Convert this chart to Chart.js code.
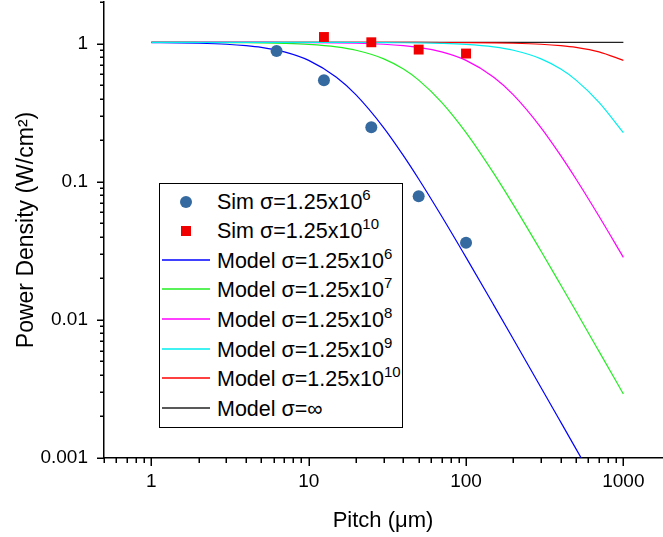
<!DOCTYPE html>
<html><head><meta charset="utf-8">
<script src="https://cdn.jsdelivr.net/npm/chart.js@4.4.1/dist/chart.umd.min.js"></script>
<style>
body{margin:0;background:#fff;}
#wrap{position:relative;width:663px;height:537px;}
#legend{position:absolute;left:159px;top:183px;width:244px;height:245px;border:1.5px solid #000;box-sizing:border-box;background:#fff;font-family:"Liberation Sans",Arial,sans-serif;font-size:21.5px;color:#000;}
.row{position:absolute;left:0;display:flex;align-items:center;height:30px;white-space:nowrap;}
.sym{width:57px;height:30px;position:relative;flex:none;}
.sym svg{position:absolute;left:2px;top:12px;}
.sym .dot{position:absolute;left:20px;top:9px;width:12px;height:12px;border-radius:50%;}
.sym .sq{position:absolute;left:21px;top:10px;width:10px;height:10px;}
sup{font-size:15px;line-height:0;vertical-align:baseline;position:relative;top:-0.6em;}
</style></head>
<body>
<div id="wrap">
<canvas id="c" width="663" height="537"></canvas>
<div id="legend"></div>
</div>
<script>
// ---- data ----
const simPitchLow = [6.25, 12.5, 25, 50, 100];
const simValuesLow = [0.884, 0.542, 0.248, 0.0786, 0.0361];
const simPitchHigh = [12.5, 25, 50, 100];
const simValuesHigh = [1.116, 1.022, 0.905, 0.847];

const modelPitch = [1, 1.5, 2, 3, 4, 5, 7, 10, 15, 20, 30, 40, 50, 70, 100, 150, 200, 300, 400, 500, 700, 1000];
const model6  = [1.0164, 1.0120, 1.0059, 0.9889, 0.9659, 0.9379, 0.8707, 0.7556, 0.5706, 0.425, 0.2458, 0.1545, 0.1046, 0.0562, 0.02833, 0.01279, 0.007234, 0.003228, 0.001818, 0.001164, 0.000594, 0.000291];
const model7  = [1.0196, 1.0192, 1.0186, 1.0168, 1.0143, 1.0112, 1.0028, 0.9855, 0.9455, 0.8947, 0.7757, 0.6538, 0.544, 0.3757, 0.2267, 0.1149, 0.068, 0.03138, 0.01789, 0.01153, 0.005913, 0.002906];
const model8  = [1.02, 1.0199, 1.0199, 1.0197, 1.0194, 1.0191, 1.0183, 1.0164, 1.0120, 1.0059, 0.9889, 0.9659, 0.9379, 0.8707, 0.7556, 0.5706, 0.425, 0.2458, 0.1545, 0.1046, 0.0562, 0.02833];
const model9  = [1.02, 1.02, 1.02, 1.02, 1.0199, 1.0199, 1.0198, 1.0196, 1.0192, 1.0186, 1.0168, 1.0143, 1.0112, 1.0028, 0.9855, 0.9455, 0.8947, 0.7757, 0.6538, 0.544, 0.3757, 0.2267];
const model10 = [1.02, 1.02, 1.02, 1.02, 1.02, 1.02, 1.02, 1.02, 1.0199, 1.0199, 1.0197, 1.0194, 1.0191, 1.0183, 1.0164, 1.012, 1.0059, 0.9889, 0.9659, 0.9379, 0.8707, 0.7556];
const modelInf = [1.02, 1.02, 1.02, 1.02, 1.02, 1.02, 1.02, 1.02, 1.02, 1.02, 1.02, 1.02, 1.02, 1.02, 1.02, 1.02, 1.02, 1.02, 1.02, 1.02, 1.02, 1.02];

const xTickValues = [0.5,0.6,0.7,0.8,0.9,1,2,3,4,5,6,7,8,9,10,20,30,40,50,60,70,80,90,100,200,300,400,500,600,700,800,900,1000];
const yTickValues = [0.001,0.002,0.003,0.004,0.005,0.006,0.007,0.008,0.009,0.01,0.02,0.03,0.04,0.05,0.06,0.07,0.08,0.09,0.1,0.2,0.3,0.4,0.5,0.6,0.7,0.8,0.9,1,2];
const xMajorLabels = ['1','10','100','1000'];
const yMajorLabels = ['0.001','0.01','0.1','1'];

const simLegend = [['Sim σ=1.25x10','6'], ['Sim σ=1.25x10','10']];
const modelLegend = [['Model σ=1.25x10','6'], ['Model σ=1.25x10','7'], ['Model σ=1.25x10','8'], ['Model σ=1.25x10','9'], ['Model σ=1.25x10','10'], ['Model σ=∞','']];

const simColors = ['#356aa0', '#f00000'];
const modelColors = ['#0000ff', '#22ee22', '#ff00ff', '#00eeee', '#ff0000', '#222222'];
// --------------------------------------

const FONT = '"Liberation Sans", Arial, sans-serif';
Chart.defaults.font.family = FONT;
Chart.defaults.color = '#000';

const toXY = (xs, ys) => xs.map((x, i) => ({x: x, y: ys[i]}));
const modelSeries = [model6, model7, model8, model9, model10, modelInf];
const modelOrder = [3, 5, 4, 2, 6, 7];

const datasets = [
  {label: simLegend[0].join(''), data: toXY(simPitchLow, simValuesLow), backgroundColor: simColors[0], borderColor: simColors[0], pointStyle: 'circle', pointRadius: 6, borderWidth: 0, order: 0},
  {label: simLegend[1].join(''), data: toXY(simPitchHigh, simValuesHigh), backgroundColor: simColors[1], borderColor: simColors[1], pointStyle: 'rect', pointRadius: 7, borderWidth: 0, order: 0}
];
modelSeries.forEach((s, i) => {
  datasets.push({label: modelLegend[i].join(''), data: toXY(modelPitch, s), showLine: true, borderColor: modelColors[i], backgroundColor: modelColors[i], borderWidth: 1.2, pointRadius: 0, cubicInterpolationMode: 'monotone', order: modelOrder[i]});
});

const isDecade = v => Math.abs(Math.log10(v) - Math.round(Math.log10(v))) < 1e-6;
const zeroPad = s => { s.paddingTop = 0; s.paddingBottom = 0; s.paddingLeft = 0; s.paddingRight = 0; };

const tickMarks = {
  id: 'tickMarks',
  afterDraw(chart) {
    const ctx = chart.ctx, xs = chart.scales.x, ys = chart.scales.y, ca = chart.chartArea;
    ctx.save();
    ctx.strokeStyle = '#000';
    ctx.lineWidth = 1.5;
    xs.ticks.forEach(t => {
      const px = Math.round(xs.getPixelForValue(t.value)) + 0.25;
      const len = isDecade(t.value) ? 8 : 5;
      ctx.beginPath(); ctx.moveTo(px, ca.bottom); ctx.lineTo(px, ca.bottom + len); ctx.stroke();
    });
    ys.ticks.forEach(t => {
      const py = Math.round(ys.getPixelForValue(t.value)) + 0.25;
      const len = isDecade(t.value) ? 7 : 4;
      ctx.beginPath(); ctx.moveTo(ca.left, py); ctx.lineTo(ca.left - len, py); ctx.stroke();
    });
    ctx.restore();
  }
};

new Chart(document.getElementById('c'), {
  type: 'scatter',
  data: {datasets},
  plugins: [tickMarks],
  options: {
    responsive: false,
    animation: false,
    events: [],
    layout: {autoPadding: false, padding: {top: 2, right: 1, left: 0, bottom: 0}},
    plugins: {legend: {display: false}, tooltip: {enabled: false}},
    scales: {
      x: {
        type: 'logarithmic', min: 0.5, max: 1760,
        afterBuildTicks: s => { s.ticks = xTickValues.map(v => ({value: v})); },
        afterFit: s => { s.height = 79; zeroPad(s); },
        grid: {display: false, drawTicks: false},
        border: {display: true, color: '#000', width: 1.5},
        ticks: {autoSkip: false, maxRotation: 0, minRotation: 0, padding: 12, color: '#000', font: {size: 19},
          callback: (v) => { if (!isDecade(v)) return ''; const k = Math.round(Math.log10(v)); return xMajorLabels[k] || ''; }},
        title: {display: true, text: 'Pitch (μm)', color: '#000', font: {size: 22}, padding: {top: 0, bottom: 3}}
      },
      y: {
        type: 'logarithmic', min: 0.001, max: 2,
        afterBuildTicks: s => { s.ticks = yTickValues.map(v => ({value: v})); },
        afterFit: s => { s.width = 104; zeroPad(s); },
        grid: {display: false, drawTicks: false},
        border: {display: true, color: '#000', width: 1.5},
        ticks: {autoSkip: false, padding: 16, color: '#000', font: {size: 19},
          callback: (v) => { if (!isDecade(v)) return ''; const k = Math.round(Math.log10(v)) + 3; return yMajorLabels[k] || ''; }},
        title: {display: true, text: 'Power Density (W/cm²)', color: '#000', font: {size: 23}, padding: {top: 13, bottom: 0}}
      }
    }
  }
});

// HTML legend (needs superscripts)
const leg = document.getElementById('legend');
let rowIndex = 0;
function addRow(symHtml, parts) {
  const row = document.createElement('div'); row.className = 'row';
  row.style.top = Math.round(2.5 + rowIndex * 29.6) + 'px';
  rowIndex++;
  const sym = document.createElement('div'); sym.className = 'sym'; sym.innerHTML = symHtml;
  const txt = document.createElement('span');
  txt.textContent = parts[0];
  if (parts[1]) { const sp = document.createElement('sup'); sp.textContent = parts[1]; txt.appendChild(sp); }
  row.appendChild(sym); row.appendChild(txt); leg.appendChild(row);
}
addRow('<div class="dot" style="background:' + simColors[0] + '"></div>', simLegend[0]);
addRow('<div class="sq" style="background:' + simColors[1] + '"></div>', simLegend[1]);
modelLegend.forEach((p, i) => addRow('<svg width="48" height="5"><line x1="0" y1="2" x2="48" y2="2" stroke="' + modelColors[i] + '" stroke-width="1.3"/></svg>', p));
</script>
</body></html>
